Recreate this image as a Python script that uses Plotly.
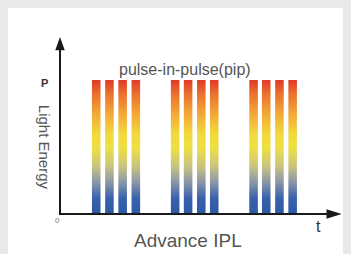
import plotly.graph_objects as go

# ---- data ----
pulse_starts = [2.42, 3.42, 4.42, 5.42, 8.40, 9.38, 10.38, 11.36, 14.34, 15.30, 16.30, 17.30]
pulse_width = 0.65
pulse_level = 1.0
title_text = "pulse-in-pulse(pip)"
x_label = "Advance IPL"
y_label = "Light Energy"
y_tick = "P"
origin_label = "0"
t_label = "t"

# gradient from bottom (0) to top (1)
grad = [
    [0.00, "#2c58a6"],
    [0.12, "#3a62ab"],
    [0.24, "#8d98a8"],
    [0.36, "#cbc57e"],
    [0.50, "#efe041"],
    [0.60, "#f2d83c"],
    [0.76, "#f2a436"],
    [0.90, "#ea6e2e"],
    [1.00, "#df3a29"],
]

X_RANGE = [-3.94, 21.44]
Y_RANGE = [-0.2985, 1.537]
X_TIP = 21.34
Y_TIP = 1.321

fig = go.Figure()
for s in pulse_starts:
    xs = [s, s + pulse_width, s + pulse_width, s, s]
    ys = [0, 0, pulse_level, pulse_level, 0]
    fig.add_trace(go.Scatter(
        x=xs, y=ys, mode="lines", fill="toself",
        line=dict(width=0, color="rgba(0,0,0,0)"),
        fillgradient=dict(type="vertical", colorscale=grad, start=0, stop=pulse_level),
        hoverinfo="skip", showlegend=False,
    ))

axis_col = "#1a1a1a"
shapes = [
    dict(type="line", xref="x", yref="y", x0=0, x1=0, y0=-0.008, y1=Y_TIP - 0.08,
         line=dict(color=axis_col, width=2)),
    dict(type="line", xref="x", yref="y", x0=0, x1=X_TIP - 0.8, y0=0, y1=0,
         line=dict(color=axis_col, width=2)),
    dict(type="path", xref="x", yref="y",
         path=f"M -0.36 {Y_TIP-0.1} L 0.36 {Y_TIP-0.1} L 0 {Y_TIP} Z",
         fillcolor=axis_col, line=dict(width=0)),
    dict(type="path", xref="x", yref="y",
         path=f"M {X_TIP-1.15} -0.036 L {X_TIP-1.15} 0.036 L {X_TIP} 0 Z",
         fillcolor=axis_col, line=dict(width=0)),
]

font_fam = "Liberation Sans, Arial, sans-serif"
annotations = [
    dict(x=9.46, y=1.075, xref="x", yref="y", text=title_text, showarrow=False,
         font=dict(family=font_fam, size=16, color="#555555")),
    dict(x=9.7, y=-0.2, xref="x", yref="y", text=x_label, showarrow=False,
         font=dict(family=font_fam, size=19, color="#555555")),
    dict(x=-1.2, y=0.5, xref="x", yref="y", text=y_label, showarrow=False, textangle=90,
         font=dict(family=font_fam, size=15, color="#555555")),
    dict(x=-1.2, y=0.975, xref="x", yref="y", text="<b>" + y_tick + "</b>", showarrow=False,
         font=dict(family=font_fam, size=11, color="#333333")),
    dict(x=-0.22, y=-0.05, xref="x", yref="y", text=origin_label, showarrow=False,
         font=dict(family=font_fam, size=8, color="#777777")),
    dict(x=19.6, y=-0.09, xref="x", yref="y", text=t_label, showarrow=False,
         font=dict(family=font_fam, size=16, color="#333333")),
]

fig.update_layout(
    width=351, height=254,
    margin=dict(l=8, r=8, t=8, b=0),
    paper_bgcolor="#e9e9e9",
    plot_bgcolor="#ffffff",
    xaxis=dict(range=X_RANGE, visible=False, fixedrange=True),
    yaxis=dict(range=Y_RANGE, visible=False, fixedrange=True),
    shapes=shapes,
    annotations=annotations,
    showlegend=False,
)

fig.write_html(
    "out.html",
    config={"displayModeBar": False},
    post_script="document.body.style.margin='0';document.body.style.background='#e9e9e9';document.body.style.overflow='hidden';",
)
